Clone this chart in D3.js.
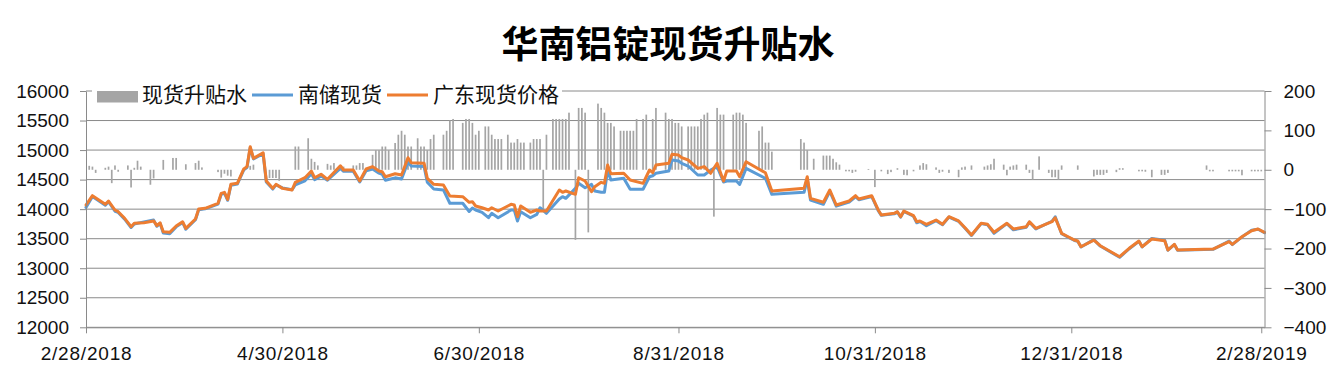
<!DOCTYPE html>
<html><head><meta charset="utf-8">
<script src="https://cdn.jsdelivr.net/npm/d3@7"></script>
<style>body{margin:0;background:#fff}svg{display:block}</style>
</head><body>
<svg id="chart" width="1337" height="380"></svg>
<script>
// ---------------- data ----------------
const title = "华南铝锭现货升贴水";
const seriesNames = ["现货升贴水", "南储现货", "广东现货价格"];

const dates = [
"2018-02-28","2018-03-02","2018-03-06","2018-03-07","2018-03-09","2018-03-10","2018-03-12","2018-03-14","2018-03-15","2018-03-18",
"2018-03-21","2018-03-22","2018-03-23","2018-03-24","2018-03-26","2018-03-28","2018-03-30","2018-03-31","2018-04-03","2018-04-04",
"2018-04-06","2018-04-10","2018-04-11","2018-04-12","2018-04-13","2018-04-14","2018-04-16","2018-04-18","2018-04-19","2018-04-20",
"2018-04-21","2018-04-24","2018-04-25","2018-04-27","2018-04-28","2018-04-30","2018-05-03","2018-05-04","2018-05-07","2018-05-09",
"2018-05-10","2018-05-12","2018-05-14","2018-05-18","2018-05-19","2018-05-22","2018-05-24","2018-05-26","2018-05-28","2018-05-30",
"2018-05-31","2018-06-01","2018-06-04","2018-06-06","2018-06-08","2018-06-09","2018-06-13","2018-06-14","2018-06-16","2018-06-19",
"2018-06-21","2018-06-25","2018-06-27","2018-06-28","2018-06-29","2018-07-01","2018-07-03","2018-07-04","2018-07-06","2018-07-10",
"2018-07-11","2018-07-12","2018-07-13","2018-07-16","2018-07-18","2018-07-19","2018-07-21","2018-07-25","2018-07-26","2018-07-27",
"2018-07-30","2018-07-31","2018-08-02","2018-08-04","2018-08-05","2018-08-07","2018-08-08","2018-08-09","2018-08-10","2018-08-14",
"2018-08-16","2018-08-20","2018-08-22","2018-08-23","2018-08-24","2018-08-28","2018-08-29","2018-08-31","2018-09-01","2018-09-03",
"2018-09-06","2018-09-08","2018-09-10","2018-09-12","2018-09-14","2018-09-15","2018-09-18","2018-09-19","2018-09-21","2018-09-27",
"2018-09-29","2018-10-09","2018-10-10","2018-10-11","2018-10-15","2018-10-17","2018-10-19","2018-10-23","2018-10-25","2018-10-26",
"2018-10-30","2018-11-01","2018-11-02","2018-11-06","2018-11-07","2018-11-08","2018-11-09","2018-11-12","2018-11-13","2018-11-14",
"2018-11-16","2018-11-19","2018-11-21","2018-11-23","2018-11-26","2018-11-28","2018-11-30","2018-12-03","2018-12-05","2018-12-07",
"2018-12-11","2018-12-13","2018-12-17","2018-12-18","2018-12-20","2018-12-25","2018-12-26","2018-12-28","2018-12-30","2019-01-01",
"2019-01-02","2019-01-03","2019-01-07","2019-01-09","2019-01-15","2019-01-18","2019-01-21","2019-01-22","2019-01-25","2019-01-29",
"2019-01-30","2019-02-01","2019-02-02","2019-02-13","2019-02-18","2019-02-19","2019-02-22","2019-02-25","2019-02-27","2019-03-01"
];

const guangdong = [
14070,14228,14082,14138,13985,13957,13845,13703,13760,13770,
13800,13720,13770,13618,13608,13714,13787,13675,13833,14002,
14014,14099,14268,14285,14165,14420,14437,14680,14720,15057,
14860,14955,14476,14352,14420,14352,14324,14454,14532,14645,
14532,14590,14505,14735,14663,14663,14476,14680,14720,14645,
14634,14549,14600,14578,14871,14786,14776,14522,14420,14409,
14222,14211,14116,14126,14053,14024,13985,14024,13968,14082,
14070,13872,14053,13946,13985,13968,13968,14324,14285,14307,
14251,14532,14476,14296,14380,14454,14437,14747,14600,14607,
14493,14437,14663,14617,14747,14776,14928,14916,14871,14832,
14690,14720,14607,14776,14476,14645,14645,14549,14803,14617,
14307,14352,14549,14183,14116,14324,14070,14138,14228,14172,
14228,13990,13901,13929,13957,13872,13968,13889,13787,13800,
13743,13816,13743,13872,13800,13686,13562,13760,13743,13608,
13760,13664,13703,13787,13675,13787,13855,13591,13533,13477,
13460,13364,13477,13381,13195,13337,13460,13364,13494,13466,
13308,13404,13308,13325,13449,13404,13533,13635,13664,13608
];

const nanchu = [
14030,14215,14065,14125,13965,13945,13830,13690,13750,13785,
13815,13710,13760,13595,13585,13700,13775,13660,13820,13990,
14005,14085,14250,14270,14150,14405,14425,14665,14705,15040,
14850,14940,14460,14340,14410,14360,14330,14410,14480,14600,
14500,14560,14490,14690,14640,14640,14460,14650,14680,14610,
14590,14490,14530,14510,14800,14730,14720,14455,14340,14325,
14100,14100,13960,14020,13985,13946,13855,13929,13855,13985,
13985,13800,13957,13855,13912,14024,13929,14172,14211,14183,
14352,14437,14363,14420,14307,14285,14285,14663,14493,14522,
14336,14336,14549,14566,14607,14645,14832,14815,14776,14730,
14578,14578,14660,14720,14460,14476,14476,14420,14690,14522,
14251,14285,14510,14155,14082,14300,14050,14120,14210,14160,
14215,13980,13895,13920,13950,13865,13960,13880,13770,13790,
13720,13805,13735,13865,13795,13675,13555,13755,13735,13590,
13755,13650,13695,13780,13665,13795,13870,13585,13525,13470,
13455,13360,13485,13375,13185,13330,13455,13360,13505,13475,
13305,13400,13305,13320,13460,13400,13530,13645,13660,13600
];

const barDates = [
"2018-03-01","2018-03-02","2018-03-03","2018-03-06","2018-03-07","2018-03-08","2018-03-09","2018-03-10","2018-03-13","2018-03-14",
"2018-03-15","2018-03-16","2018-03-17","2018-03-20","2018-03-21","2018-03-24","2018-03-27","2018-03-28","2018-03-31","2018-04-03",
"2018-04-04","2018-04-05","2018-04-10","2018-04-11","2018-04-12","2018-04-13","2018-04-14","2018-04-20","2018-04-21","2018-04-26",
"2018-04-27","2018-04-28","2018-04-29","2018-05-04","2018-05-05","2018-05-08","2018-05-09","2018-05-10","2018-05-11","2018-05-14",
"2018-05-15","2018-05-16","2018-05-19","2018-05-22","2018-05-23","2018-05-24","2018-05-25","2018-05-28","2018-05-29","2018-05-30",
"2018-05-31","2018-06-01","2018-06-02","2018-06-04","2018-06-05","2018-06-06","2018-06-07","2018-06-08","2018-06-09","2018-06-11",
"2018-06-12","2018-06-13","2018-06-14","2018-06-15","2018-06-16","2018-06-19","2018-06-20","2018-06-21","2018-06-22","2018-06-25",
"2018-06-26","2018-06-27","2018-06-28","2018-06-29","2018-06-30","2018-07-02","2018-07-03","2018-07-04","2018-07-05","2018-07-06",
"2018-07-07","2018-07-09","2018-07-10","2018-07-11","2018-07-12","2018-07-13","2018-07-14","2018-07-16","2018-07-17","2018-07-18",
"2018-07-19","2018-07-20","2018-07-21","2018-07-23","2018-07-24","2018-07-25","2018-07-26","2018-07-27","2018-07-28","2018-07-30",
"2018-07-31","2018-08-01","2018-08-02","2018-08-03","2018-08-06","2018-08-07","2018-08-08","2018-08-09","2018-08-10","2018-08-11",
"2018-08-13","2018-08-14","2018-08-15","2018-08-16","2018-08-17","2018-08-18","2018-08-20","2018-08-21","2018-08-23","2018-08-24",
"2018-08-27","2018-08-28","2018-08-29","2018-08-30","2018-08-31","2018-09-01","2018-09-03","2018-09-04","2018-09-05","2018-09-06",
"2018-09-07","2018-09-08","2018-09-09","2018-09-11","2018-09-12","2018-09-13","2018-09-14","2018-09-17","2018-09-18","2018-09-19",
"2018-09-20","2018-09-21","2018-09-25","2018-09-26","2018-09-27","2018-09-28","2018-09-29","2018-10-08","2018-10-09","2018-10-10",
"2018-10-12","2018-10-15","2018-10-16","2018-10-17","2018-10-18","2018-10-19","2018-10-20","2018-10-22","2018-10-23","2018-10-24",
"2018-10-25","2018-10-29","2018-10-31","2018-11-02","2018-11-04","2018-11-05","2018-11-07","2018-11-09","2018-11-10","2018-11-12",
"2018-11-14","2018-11-15","2018-11-16","2018-11-19","2018-11-20","2018-11-21","2018-11-23","2018-11-26","2018-11-27","2018-11-28",
"2018-11-30","2018-12-04","2018-12-05","2018-12-06","2018-12-07","2018-12-10","2018-12-11","2018-12-12","2018-12-13","2018-12-14",
"2018-12-17","2018-12-18","2018-12-19","2018-12-21","2018-12-24","2018-12-25","2018-12-26","2018-12-27","2018-12-28","2019-01-02",
"2019-01-07","2019-01-08","2019-01-09","2019-01-10","2019-01-11","2019-01-14","2019-01-15","2019-01-16","2019-01-21","2019-01-22",
"2019-01-23","2019-01-25","2019-01-28","2019-01-29","2019-01-30","2019-02-11","2019-02-12","2019-02-13","2019-02-18","2019-02-19",
"2019-02-20","2019-02-21","2019-02-22","2019-02-25","2019-02-26","2019-02-27","2019-02-28"
];

const premium = [
10,8,-8,5,8,-34,11,-5,11,-45,
5,23,8,-38,-22,25,30,30,14,17,
23,6,-6,-20,-10,-15,-17,10,13,-21,
-21,-21,-28,59,59,80,28,20,11,15,
11,17,8,11,11,17,17,38,50,50,
59,59,50,68,89,99,89,59,59,80,
59,59,50,78,89,89,99,125,129,119,
129,129,119,89,99,110,110,89,78,78,
78,89,69,69,78,69,69,69,78,78,
78,-102,89,129,129,129,129,129,145,-178,
157,157,145,-159,168,157,145,119,119,110,
99,99,99,99,99,129,129,140,129,157,
145,129,129,119,119,110,110,110,110,110,
129,140,145,-119,157,140,140,140,145,145,
140,119,99,110,69,69,46,78,69,50,
28,36,36,36,28,19,13,-4,-4,-8,
-5,2,-44,-4,-11,-6,4,-13,-14,-4,
11,17,14,6,-8,-5,-8,-19,6,8,
11,8,11,14,28,13,-14,8,11,13,
13,-8,-25,34,-8,-19,-19,-25,11,11,
-17,-13,-13,-13,-8,-6,4,4,-4,-4,
-5,-19,-13,-13,-8,11,-4,-4,-4,-4,
-4,-4,-14,-4,-4,-4,-4
];

const leftTicks = [12000,12500,13000,13500,14000,14500,15000,15500,16000];
const rightTicks = [-400,-300,-200,-100,0,100,200];
const xTickLabels = ["2/28/2018","4/30/2018","6/30/2018","8/31/2018","10/31/2018","12/31/2018","2/28/2019"];
const xDomain = ["2018-02-28","2019-03-01"];

// ---------------- layout ----------------
const colors = {bar:"#a5a5a5", blue:"#5b9bd5", orange:"#ed7d31", grid:"#8a8a8a", text:"#111"};
const plot = {left:86, right:1264.5, top:91, bottom:327.3};
const axisFont = "'Liberation Sans', Arial, sans-serif";
const cjkFont = "'Noto Sans CJK SC', sans-serif";

const parse = d3.utcParse("%Y-%m-%d");
const parseTick = d3.utcParse("%m/%d/%Y");

const x = d3.scaleUtc().domain(xDomain.map(parse)).range([plot.left, plot.right]);
const yL = d3.scaleLinear().domain([12000,16000]).range([plot.bottom, plot.top]);
const yR = d3.scaleLinear().domain([-400,200]).range([plot.bottom, plot.top]);

const svg = d3.select("#chart");

// title
svg.append("text").attr("x", 668).attr("y", 42)
  .attr("text-anchor","middle").attr("dominant-baseline","central")
  .style("font-family", cjkFont).style("font-weight","bold").style("font-size","37px")
  .attr("fill","#000").text(title);

// gridlines
svg.append("g").selectAll("line").data(leftTicks).join("line")
  .attr("x1", plot.left).attr("x2", plot.right)
  .attr("y1", d=>yL(d)).attr("y2", d=>yL(d))
  .attr("stroke", colors.grid).attr("stroke-width",1);

// bars
const barData = barDates.map((d,i)=>({date:parse(d), v:premium[i]}));
const bw = 1.7;
svg.append("g").selectAll("rect").data(barData).join("rect")
  .attr("x", d=>x(d.date)-bw/2)
  .attr("y", d=>Math.min(yR(d.v), yR(0)))
  .attr("width", bw)
  .attr("height", d=>Math.abs(yR(d.v)-yR(0)))
  .attr("fill", colors.bar);

// lines
const lineData = (vals)=>dates.map((d,i)=>({date:parse(d), v:vals[i]}));
const line = d3.line().x(d=>x(d.date)).y(d=>yL(d.v));
svg.append("path").datum(lineData(nanchu)).attr("d", line)
  .attr("fill","none").attr("stroke", colors.blue).attr("stroke-width",3)
  .attr("stroke-linejoin","round").attr("stroke-linecap","round");
svg.append("path").datum(lineData(guangdong)).attr("d", line)
  .attr("fill","none").attr("stroke", colors.orange).attr("stroke-width",3)
  .attr("stroke-linejoin","round").attr("stroke-linecap","round");

// axes
function styleAxis(g){
  g.selectAll(".domain").attr("stroke", colors.grid).attr("stroke-width",1);
  g.selectAll(".tick line").attr("stroke", colors.grid).attr("stroke-width",1);
  g.selectAll(".tick text").attr("fill", colors.text)
    .style("font-family", axisFont).style("font-size","19px");
}
const gL = svg.append("g").attr("transform",`translate(${plot.left},0)`)
  .call(d3.axisLeft(yL).tickValues(leftTicks).tickFormat(d3.format("d")).tickSize(6).tickSizeOuter(0).tickPadding(11));
styleAxis(gL);
const gR = svg.append("g").attr("transform",`translate(${plot.right},0)`)
  .call(d3.axisRight(yR).tickValues(rightTicks).tickFormat(d3.format("d")).tickSize(7).tickSizeOuter(0).tickPadding(12));
styleAxis(gR);
const gX = svg.append("g").attr("transform",`translate(0,${plot.bottom})`)
  .call(d3.axisBottom(x).tickValues(xTickLabels.map(parseTick)).tickFormat((d,i)=>xTickLabels[i]).tickSize(6).tickSizeOuter(0).tickPadding(13));
styleAxis(gX);
gX.selectAll(".tick text").style("letter-spacing","0.8px");

// legend
const lg = svg.append("g");
lg.append("rect").attr("x",92).attr("y",82).attr("width",470).attr("height",22).attr("fill","#fff");
const legendItems = [
  {name:seriesNames[0], type:"bar", color:colors.bar, x0:97, tx:142},
  {name:seriesNames[1], type:"line", color:colors.blue, x0:252, tx:298},
  {name:seriesNames[2], type:"line", color:colors.orange, x0:387, tx:433}
];
legendItems.forEach(it=>{
  if(it.type==="bar"){
    lg.append("rect").attr("x",it.x0).attr("y",91).attr("width",41).attr("height",11.5).attr("fill",it.color);
  } else {
    lg.append("line").attr("x1",it.x0).attr("x2",it.x0+41).attr("y1",95).attr("y2",95)
      .attr("stroke",it.color).attr("stroke-width",3);
  }
  lg.append("text").attr("x",it.tx).attr("y",93).attr("dominant-baseline","central")
    .style("font-family",cjkFont).style("font-size","21px").attr("fill",colors.text).text(it.name);
});
</script>
</body></html>
